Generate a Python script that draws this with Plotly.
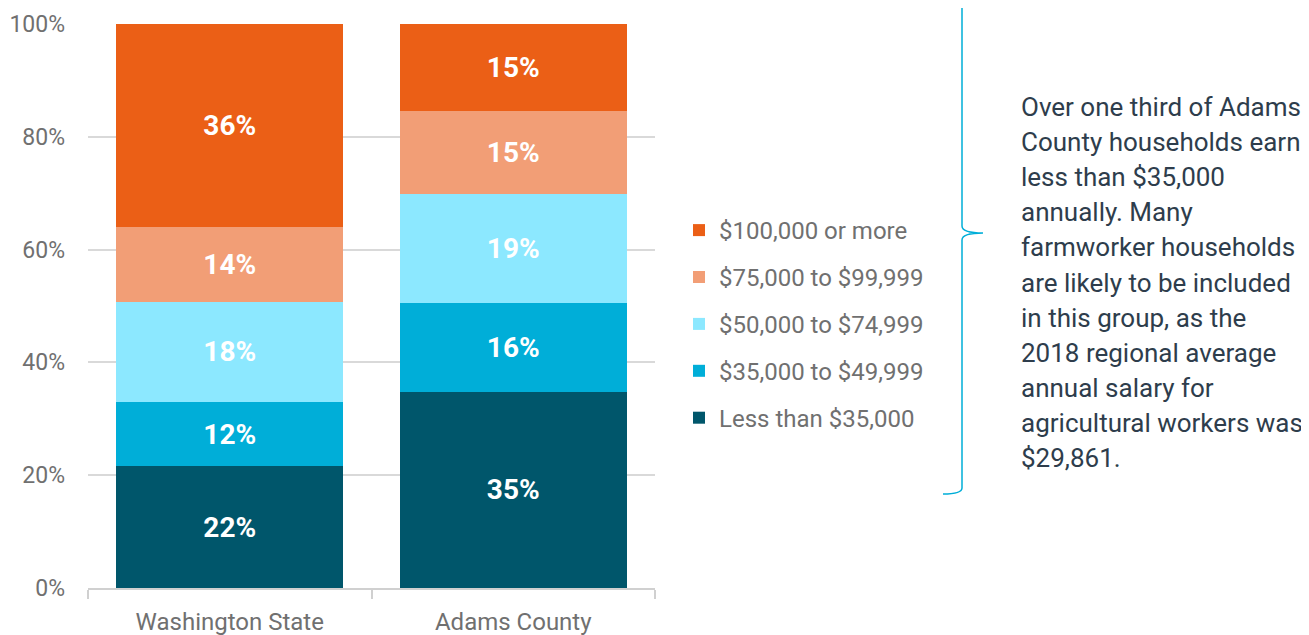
import plotly.graph_objects as go

categories = ["Washington State", "Adams County"]
brackets = [
    "Less than $35,000",
    "$35,000 to $49,999",
    "$50,000 to $74,999",
    "$75,000 to $99,999",
    "$100,000 or more",
]
# shares (%) per bracket, bottom to top
values = [
    [21.6, 34.8],
    [11.4, 15.7],
    [17.7, 19.4],
    [13.3, 14.7],
    [36.0, 15.4],
]
labels = [
    ["22%", "35%"],
    ["12%", "16%"],
    ["18%", "19%"],
    ["14%", "15%"],
    ["36%", "15%"],
]
colors = ["#00566B", "#00AED8", "#8CE8FF", "#F29E76", "#EB5F16"]

y_ticks = [0, 20, 40, 60, 80, 100]
y_ticktext = ["0%", "20%", "40%", "60%", "80%", "100%"]

note_lines = [
    "Over one third of Adams",
    "County households earn",
    "less than $35,000",
    "annually. Many",
    "farmworker households",
    "are likely to be included",
    "in this group, as the",
    "2018 regional average",
    "annual salary for",
    "agricultural workers was",
    "$29,861.",
]

FONT = "Roboto"
OFF = 8  # page body margin
W, H = 1309 - OFF, 635 - OFF
L, R, T, B = 88 - OFF, 655 - OFF, 24 - OFF, 588 - OFF  # plot area in figure pixels


def px(x):
    return (x - OFF - L) / (R - L)


def py(y):
    return (B - (y - OFF)) / (B - T)


fig = go.Figure()

for i, name in enumerate(brackets):
    fig.add_trace(go.Bar(
        x=categories,
        y=values[i],
        name=name,
        legendgroup=name,
        legendrank=len(brackets) - i,
        marker=dict(color=colors[i], line=dict(width=0)),
        width=0.8,
        text=labels[i],
        textposition="inside",
        insidetextanchor="middle",
        textangle=0,
        constraintext="none",
        textfont=dict(family=FONT, size=28, color="white", weight="bold"),
        hovertemplate="%{x}<br>" + name + ": %{text}<extra></extra>",
    ))

# -----------------------
# BRACKET + NOTE
# -----------------------
xv, xt, xe = px(962), px(983), px(943)
path = (
    f"M {xv},{py(-5)} L {xv},{py(226)} "
    f"Q {xv},{py(233)} {xt},{py(233)} "
    f"Q {xv},{py(233)} {xv},{py(240)} "
    f"L {xv},{py(488)} Q {xv},{py(494)} {xe},{py(494)}"
)
fig.add_shape(type="path", path=path, xref="paper", yref="paper",
              line=dict(color="#00AED8", width=1.5))

for k, line in enumerate(note_lines):
    fig.add_annotation(
        x=px(1019), y=py(107 + k * 35.1), xref="paper", yref="paper",
        text=line, showarrow=False, xanchor="left", yanchor="middle",
        font=dict(family=FONT, size=26, color="#2E3D4C"),
    )

# -----------------------
# LAYOUT
# -----------------------
fig.update_layout(
    width=W,
    height=H,
    barmode="stack",
    margin=dict(l=L, r=W - R, t=T, b=H - B, autoexpand=False),
    plot_bgcolor="white",
    paper_bgcolor="white",
    font=dict(family=FONT, color="#707070", size=22),
    xaxis=dict(
        automargin=False,
        showgrid=False,
        showline=True,
        linecolor="#D0D0D0",
        linewidth=2,
        ticks="outside",
        tickson="boundaries",
        ticklen=9,
        tickwidth=2,
        tickcolor="#D0D0D0",
        tickfont=dict(family=FONT, size=24, color="#707070"),
        ticklabelstandoff=11,
    ),
    yaxis=dict(
        automargin=False,
        range=[0, 100],
        tickvals=y_ticks,
        ticktext=y_ticktext,
        showgrid=True,
        gridcolor="#D9D9D9",
        gridwidth=2,
        zeroline=False,
        showline=False,
        tickfont=dict(family=FONT, size=23, color="#707070"),
        ticklabelstandoff=22,
    ),
    legend=dict(
        x=px(679), y=py(208), xanchor="left", yanchor="top",
        traceorder="grouped",
        tracegroupgap=12.7,
        font=dict(family=FONT, size=24, color="#707070"),
        itemwidth=30,
        bgcolor="rgba(0,0,0,0)",
    ),
    showlegend=True,
)

fig.write_html("out.html")
